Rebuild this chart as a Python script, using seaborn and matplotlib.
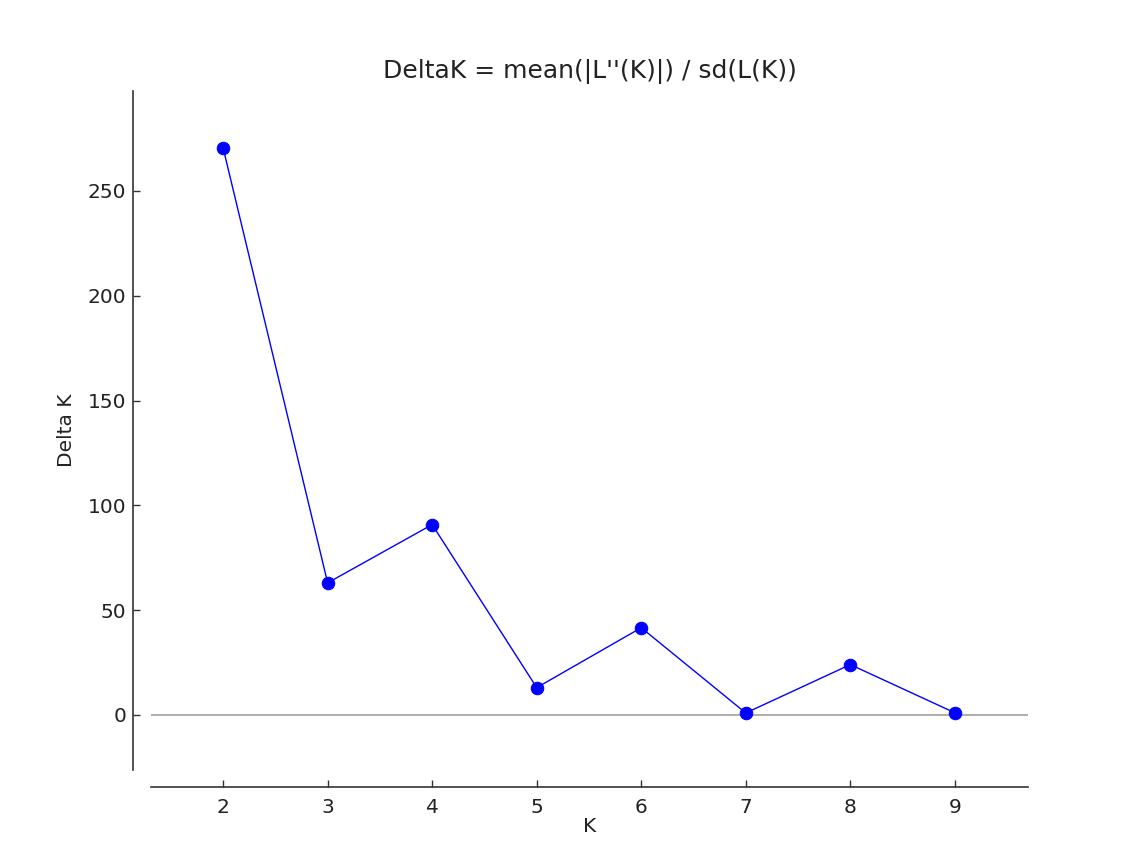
import matplotlib
matplotlib.use("Agg")
import matplotlib.pyplot as plt
import pandas as pd
import seaborn as sns

# DeltaK values (Evanno method)
k_values = [2, 3, 4, 5, 6, 7, 8, 9]
delta_k = [270.5, 63.0, 90.8, 13.0, 41.6, 0.9, 24.0, 1.0]

df = pd.DataFrame({"K": k_values, "Delta K": delta_k})

sns.set_style("white")
plt.rcParams["font.family"] = ["DejaVu Sans"]

fig = plt.figure(figsize=(11.36, 8.52), dpi=100)
ax = fig.add_axes([151 / 1136, 1 - 770 / 852, (1028 - 151) / 1136, (770 - 91) / 852])

ax.axhline(0, color="#a0a0a0", lw=1.2, zorder=1)
sns.lineplot(data=df, x="K", y="Delta K", ax=ax, color="blue", lw=1.0,
             marker="o", markersize=9, markeredgecolor="blue", zorder=3)

ax.set_xlim(1.31, 9.70)
ax.set_ylim(-26.3, 297.7)
ax.set_xticks(k_values)
ax.set_yticks([0, 50, 100, 150, 200, 250])

for side in ["top", "right"]:
    ax.spines[side].set_visible(False)
ax.spines["left"].set_position(("outward", 13))
ax.spines["bottom"].set_position(("outward", 12.5))
for side in ["left", "bottom"]:
    ax.spines[side].set_color("#333333")
    ax.spines[side].set_linewidth(1.2)

ax.tick_params(bottom=True, left=True, direction="in", length=5, width=1,
               colors="#333333", labelsize=14.5, labelcolor="#222222")
ax.tick_params(axis="x", pad=8)
ax.tick_params(axis="y", pad=5)
ax.set_xlabel("K", fontsize=14.5, color="#222222", labelpad=0)
ax.set_ylabel("Delta K", fontsize=14.5, color="#222222", labelpad=8)
ax.set_title("DeltaK = mean(|L''(K)|) / sd(L(K))", fontsize=18, color="#222222", pad=9)

fig.savefig("out.png", dpi=100)
